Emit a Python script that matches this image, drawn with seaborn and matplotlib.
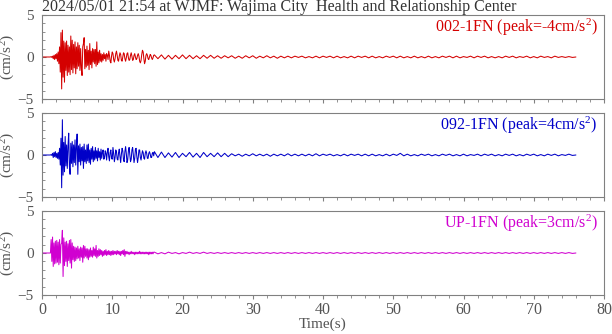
import numpy as np
import pandas as pd
import matplotlib
matplotlib.use("Agg")
import matplotlib.pyplot as plt
import seaborn as sns

# ---------------- data ----------------
title = "2024/05/01 21:54 at WJMF: Wajima City  Health and Relationship Center"
channels = ["002-1FN", "092-1FN", "UP-1FN"]
peaks = ["-4", "4", "3"]
colors = ["#d40000", "#0000c8", "#d000d0"]

head_dt = 0.1      # s, samples 0.0 .. 15.9
tail_start = 16.0  # s
tail_dt = 0.5      # s, samples 16.0 .. 76.0

red_head = [
    0, 0, 0, 0, 0, 0, 0, 0, 0, 0, 0, 0, 0, 0.05, -0.05,
    0.1, -0.2, 0.2, -0.3, 0.3, -0.2, 0.4, -0.5, 0.6, -0.8,
    1.2, -1.8, 2.9, -3.8, 3.2, -2.4, 1.9, -3.0, 1.7, -1.6,
    1.9, -2.2, 1.4, -1.8, 1.2, -2.1, 2.5, -1.5, 2.0, -1.9,
    1.5, -1.3, 1.8, -2.0, 1.2, -1.4, 1.7, -1.1, 1.4, -1.6,
    1.0, -1.3, -2.2, 1.2, 1.6, 2.3, -1.4, 0.9, -1.2, 1.3,
    -1.0, 0.8, -1.5, 1.6, -0.9, 0.7, -1.3, 1.0, -0.6, 0.9,
    -0.8, 0.9, -1.1, 1.8, -0.9, 0.6, -0.7, 0.8, -0.5, 0.4,
    -0.6, 0.3, -0.4, 0.5, -0.2, 0.3, -0.5, 0.4, 0.2, -0.3,
    0.7, 0.2, -0.5, -0.7, 0.1, 0.6, 0.4, -0.3, -0.6, -0.2,
    0.4, 0.7, 0.2, -0.4, -0.5, 0.1, 0.5, 0.3, -0.4, -0.5,
    0.0, 0.5, 0.4, -0.2, -0.5, -0.1, 0.4, 0.5, -0.1, -0.4,
    -0.3, 0.2, 0.5, 0.1, -0.4, -0.3, 0.2, 0.4, 0.0, -0.3,
    -0.2, 0.2, 0.4, 0.1, -0.5, -0.7, -0.4, 0.3, 0.8, 0.6,
    -0.2, -0.8, -0.5, 0.2, 0.4, 0.2, -0.2, -0.3, 0.0, 0.3,
    0.2, -0.1, -0.3, -0.1, 0.2,
]
red_tail = [
    0.25, -0.2, 0.25, -0.25, 0.2, -0.25, 0.2, -0.2, 0.25, -0.2, 0.2, -0.2, 0.15, -0.2, 0.2, -0.15, 0.2, -0.15,
    0.15, -0.15, 0.15, -0.1, 0.15, -0.15, 0.1, -0.15, 0.15, -0.1, 0.15, -0.15, 0.1, -0.1, 0.15, -0.1, 0.1, -0.15, 0.1, -0.1,
    0.1, -0.1, 0.1, -0.05, 0.1, -0.1, 0.05, -0.1, 0.1, -0.1, 0.1, -0.05, 0.1, -0.1, 0.1, -0.1, 0.05, -0.1, 0.1, -0.1,
    0.1, -0.05, 0.1, -0.1, 0.1, -0.1, 0.05, -0.1, 0.1, -0.05, 0.1, -0.1, 0.1, -0.1, 0.05, -0.1, 0.1, -0.1, 0.05, -0.1,
    0.1, -0.1, 0.05, -0.1, 0.1, -0.05, 0.1, -0.1, 0.1, -0.1, 0.05, -0.05, 0.1, -0.1, 0.1, -0.05, 0.1, -0.1, 0.05, -0.1,
    0.05, -0.1, 0.1, -0.05, 0.1, -0.1, 0.05, -0.05, 0.1, -0.1, 0.05, -0.1, 0.1, -0.05, 0.05, -0.1, 0.1, -0.05, 0.05, -0.05,
    0.05, -0.05, 0.0,
]

blue_head = [
    0, 0, 0, 0, 0, 0, 0, 0, 0, 0, 0, 0, 0, 0.05, -0.05,
    0.2, -0.3, 0.3, -0.2, 0.4, -0.3, 0.2, -0.4, 0.3, -0.5,
    0.8, -1.2, 2.0, -3.9, 4.2, -2.4, 1.5, -2.0, 2.2, -1.3,
    1.2, -1.6, 1.0, 2.6, -1.3, -2.3, 1.4, -1.0, 1.6, -1.4,
    1.2, -0.9, 1.8, -1.2, 1.0, 2.5, -2.3, 1.1, -0.8, 1.3,
    -1.2, 0.9, -0.7, 1.0, -1.6, 1.3, -0.8, 0.6, -1.0, 1.2,
    -0.7, 1.3, -0.9, 0.6, -1.1, 0.8, -0.5, 1.0, -0.8, 0.5,
    -0.6, 0.9, -0.4, 0.5, -0.7, 0.8, -0.3, 0.4, -0.6, 0.7,
    -0.4, 0.3, 0.6, -0.5, -0.3, 0.5, 0.2, -0.6, 0.4, 0.8,
    -0.2, -0.7, 0.3, 0.6, -0.4, -0.5, 0.9, 0.2, -0.8, -0.3,
    0.6, 0.4, -0.5, -0.6, 0.3, 0.7, -0.2, -0.9, 0.1, 0.8,
    0.5, -0.6, -0.8, 0.4, 1.0, 0.2, -0.9, -0.6, 0.5, 0.9,
    0.1, -0.8, -0.5, 0.6, 0.9, 0.0, -0.9, -0.4, 0.7, 0.8,
    -0.2, -0.9, -0.3, 0.6, 0.6, -0.3, -0.6, 0.0, 0.5, 0.3,
    -0.4, -0.5, 0.2, 0.5, 0.2, -0.4, -0.4, 0.2, 0.4, 0.1,
    -0.3, -0.3, 0.2, 0.3, -0.1,
]
blue_tail = [
    0.4, -0.3, 0.35, -0.3, 0.25, -0.25, 0.3, -0.3, 0.2, -0.2, 0.3, -0.25, 0.2, -0.3, 0.3, -0.2, 0.2, -0.2, 0.25, -0.2, 0.2, -0.2,
    0.15, -0.1, 0.1, -0.15, 0.1, -0.1, 0.15, -0.1, 0.1, -0.1, 0.1, -0.15, 0.1, -0.1, 0.1, -0.1, 0.15, -0.1, 0.1, -0.1,
    0.1, -0.1, 0.1, -0.1, 0.15, -0.1, 0.1, -0.05, 0.1, -0.1, 0.05, -0.1, 0.1, -0.1, 0.1, -0.05, 0.1, -0.1, 0.1, -0.1,
    0.1, -0.1, 0.05, -0.1, 0.1, -0.1, 0.1, -0.05, 0.2, -0.1, 0.1, -0.1, 0.05, -0.1, 0.1, -0.05, 0.1, -0.1, 0.05, -0.1,
    0.1, -0.05, 0.1, -0.1, 0.05, -0.1, 0.1, -0.1, 0.05, -0.05, 0.1, -0.1, 0.1, -0.05, 0.1, -0.1, 0.05, -0.1, 0.1, -0.05,
    0.1, -0.1, 0.05, -0.1, 0.1, -0.05, 0.1, -0.1, 0.05, -0.1, 0.1, -0.05, 0.1, -0.1, 0.05, -0.05, 0.1, -0.05, 0.0,
]

mag_head = [
    0, 0, 0, 0, 0, 0, 0, 0, 0, 0, 0, 0, 0,
    1.6, -1.0, 1.9, -1.6, 1.2, -1.3, 1.4, -1.2, 1.5, -1.1, 1.3, -1.4,
    1.6, -1.2, 1.0, 1.2, 2.7, -2.8, 1.8, -1.5, 1.3, -1.0,
    1.4, -1.6, 1.1, -0.9, 1.5, -1.2, 1.6, -1.8, 1.2, -0.8,
    0.8, -1.0, 0.7, -0.9, 0.6, -0.7, 0.8, -0.6, 0.5, -0.9,
    0.7, -0.5, 0.6, -1.1, 0.9, -0.6, 0.8, -0.4, 0.5, -0.6,
    0.5, -0.8, 0.4, -0.5, 0.6, -0.4, 0.3, -0.5, 0.7, -0.3,
    0.5, -0.4, 0.9, -0.6, 0.3, -0.4, 0.5, -0.3, 0.4, -0.2,
    0.3, -0.4, 0.2, -0.3, 0.3, -0.2, 0.4, -0.3, 0.2, -0.2,
    0.3, -0.2, 0.2, -0.3, 0.2, -0.2, 0.3, -0.2, 0.2, -0.1,
    0.2, -0.2, 0.3, -0.1, 0.2, -0.2, 0.2, -0.3, 0.2, -0.1,
    0.3, -0.2, 0.4, -0.4, 0.2, -0.1, 0.2, -0.1, 0.1, -0.2,
    0.1, -0.1, 0.2, -0.1, 0.1, -0.1, 0.1, -0.2, 0.1, -0.1,
    0.1, -0.1, 0.1, -0.1, 0.2, -0.1, 0.1, -0.1, 0.1, -0.1,
    0.1, -0.1, 0.1, -0.1, 0.1, -0.1, 0.1, -0.2, 0.1, -0.1,
    0.1, -0.1, 0.1, -0.1, 0.1,
]
mag_tail = [
    0.1, -0.1, 0.05, -0.1, 0.1, -0.05, 0.05, -0.1, 0.05, -0.05, 0.1, -0.05, 0.05, -0.05, 0.1, -0.05, 0.05, -0.05, 0.05, -0.05,
    0.05, -0.05, 0.05, -0.05, 0.05, -0.05, 0.05, -0.05, 0.05, -0.05, 0.05, -0.05, 0.05, -0.05, 0.05, -0.05, 0.05, -0.05, 0.05, -0.05,
    0.05, -0.05, 0.05, -0.05, 0.05, -0.05, 0.05, -0.05, 0.05, -0.05, 0.05, -0.05, 0.05, -0.05, 0.05, -0.05, 0.05, -0.05, 0.05, -0.05,
    0.05, -0.05, 0.05, -0.05, 0.05, -0.05, 0.05, -0.05, 0.05, -0.05, 0.05, -0.05, 0.05, -0.05, 0.05, -0.05, 0.05, -0.05, 0.05, -0.05,
    0.05, -0.05, 0.05, -0.05, 0.05, -0.05, 0.05, -0.05, 0.05, -0.05, 0.05, -0.05, 0.05, -0.05, 0.05, -0.05, 0.05, -0.05, 0.05, -0.05,
    0.05, -0.05, 0.05, -0.05, 0.05, -0.05, 0.05, -0.05, 0.05, -0.05, 0.05, -0.05, 0.05, -0.05, 0.05, -0.05, 0.05, -0.05, 0.05, -0.05,
    0.0,
]

heads = [red_head, blue_head, mag_head]
tails = [red_tail, blue_tail, mag_tail]

# ---------------- style ----------------
sns.set_style("ticks")
plt.rcParams["font.family"] = ["Liberation Serif", "DejaVu Serif"]
plt.rcParams["mathtext.fontset"] = "custom"
plt.rcParams["mathtext.rm"] = "Liberation Serif"
plt.rcParams["mathtext.it"] = "Liberation Serif"

tick_c = "#555555"
spine_c = "#808080"

fig = plt.figure(figsize=(6.12, 3.34), dpi=100)
left, width = 42 / 612, (604 - 42) / 612
tops = [15, 113, 211]
h = 84

for i in range(3):
    ax = fig.add_axes([left, 1 - (tops[i] + h) / 334, width, h / 334])
    th = np.arange(len(heads[i])) * head_dt
    tt = tail_start + np.arange(len(tails[i])) * tail_dt
    df = pd.DataFrame({"t": np.concatenate([th, tt]),
                       "a": np.concatenate([heads[i], tails[i]])})
    sns.lineplot(data=df, x="t", y="a", ax=ax, color=colors[i], lw=0.75,
                 estimator=None, sort=False)
    ax.set_xlim(0, 80)
    ax.set_ylim(-5, 5)
    ax.set_yticks([-5, 0, 5])
    ax.set_yticks(np.arange(-5, 6, 1), minor=True)
    ax.set_xticks(np.arange(0, 81, 10))
    ax.set_xticks(np.arange(0, 81, 2), minor=True)
    ax.tick_params(axis="y", which="both", direction="in", colors=spine_c,
                   labelcolor=tick_c, labelsize=11, pad=6)
    ax.tick_params(axis="y", which="major", length=3, width=0.8)
    ax.tick_params(axis="y", which="minor", length=2, width=0.6)
    ax.tick_params(axis="x", which="both", direction="out", colors=spine_c,
                   labelcolor=tick_c, labelsize=11.5, pad=2)
    ax.tick_params(axis="x", which="major", length=3.2, width=0.8)
    ax.tick_params(axis="x", which="minor", length=2.5, width=0.6)
    for s in ax.spines.values():
        s.set_visible(True)
        s.set_color(spine_c)
        s.set_linewidth(0.8)
    ax.set_ylabel("(cm/s$^2$)", color=tick_c, fontsize=11)
    ax.yaxis.set_label_coords((17 - 42) / 562, 0.5)
    if i < 2:
        ax.set_xlabel("")
        ax.tick_params(axis="x", labelbottom=False)
    else:
        ax.set_xlabel("Time(s)", color=tick_c, fontsize=11, va="top")
        ax.xaxis.set_label_coords(0.5, (295 - 318) / 84)
    ax.text(0.989, 0.975, f"{channels[i]} (peak={peaks[i]}cm/s$^2$)",
            transform=ax.transAxes, ha="right", va="top",
            color=colors[i], fontsize=11.5)
    if i == 0:
        ax.text(0.0, 1.005, title, transform=ax.transAxes, ha="left",
                va="bottom", color="#333333", fontsize=11.5)

fig.savefig("out.png", dpi=100)
